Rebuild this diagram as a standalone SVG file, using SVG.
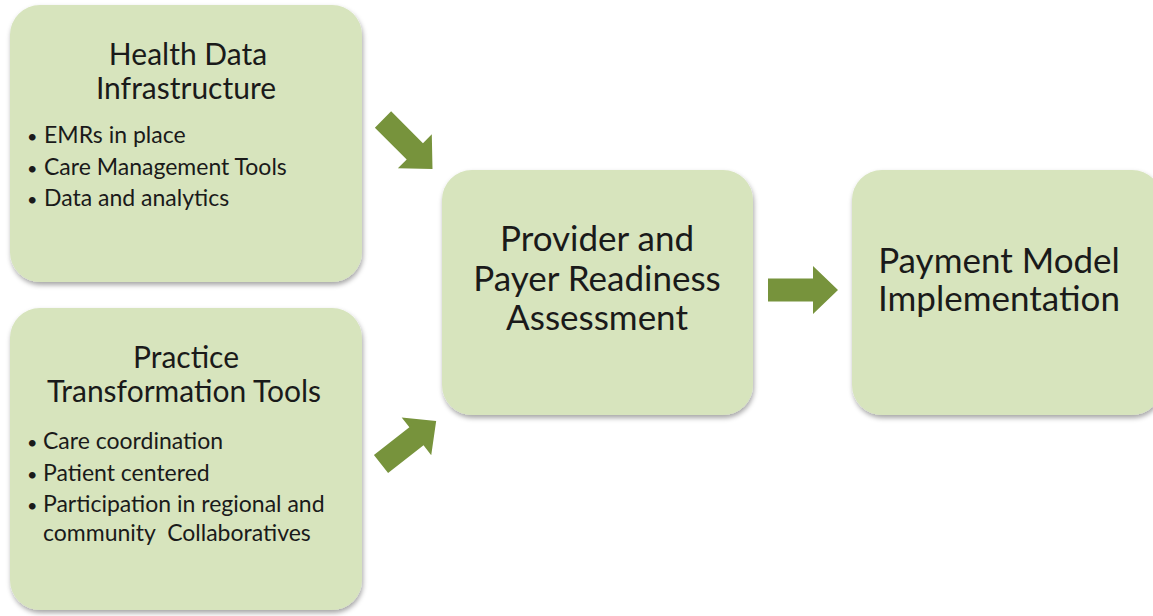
<svg xmlns="http://www.w3.org/2000/svg" width="1153" height="616" viewBox="0 0 1153 616">
<defs>
<filter id="sh" x="-10%" y="-10%" width="125%" height="125%">
<feDropShadow dx="1" dy="3" stdDeviation="2.5" flood-color="#000" flood-opacity="0.35"/>
</filter>
<path id="arr" d="M0,-11.5 H45 V-24 L70,0 L45,24 V11.5 H0 Z"/>
</defs>
<style>
.box{fill:#D7E4BD;filter:url(#sh);}
.t{font-family:Lato,"Open Sans",sans-serif;fill:#1a1a1a;}
.big{font-size:30px;text-anchor:middle;}
.xl{font-size:35px;text-anchor:middle;}
.sm{font-size:23px;}
.dot{font-size:18px;}
.ar{fill:#77933C;}
</style>
<rect width="1153" height="616" fill="#ffffff"/>
<g id="health-data">
<rect class="box" x="10" y="5" width="352" height="277" rx="30"/>
<text class="t big" x="188" y="65">Health Data</text>
<text class="t big" x="186" y="99">Infrastructure</text>
<text class="t dot" x="27" y="143">•</text>
<text class="t sm" x="44" y="143">EMRs in place</text>
<text class="t dot" x="27" y="175">•</text>
<text class="t sm" x="44" y="175">Care Management Tools</text>
<text class="t dot" x="27" y="206">•</text>
<text class="t sm" x="44" y="206">Data and analytics</text>
</g>
<g id="practice">
<rect class="box" x="10" y="308" width="352" height="302" rx="30"/>
<text class="t big" x="186" y="368">Practice</text>
<text class="t big" x="184" y="402">Transformation Tools</text>
<text class="t dot" x="27" y="449">•</text>
<text class="t sm" x="43" y="449">Care coordination</text>
<text class="t dot" x="27" y="481">•</text>
<text class="t sm" x="43" y="481">Patient centered</text>
<text class="t dot" x="27" y="512">•</text>
<text class="t sm" x="43" y="512">Participation in regional and</text>
<text class="t sm" x="43" y="541" xml:space="preserve">community  Collaboratives</text>
</g>
<g id="readiness">
<rect class="box" x="442" y="170" width="311" height="245" rx="30"/>
<text class="t xl" x="597" y="251">Provider and</text>
<text class="t xl" x="597" y="291">Payer Readiness</text>
<text class="t xl" x="597" y="330">Assessment</text>
</g>
<g id="payment">
<rect class="box" x="852" y="170" width="310" height="245" rx="30"/>
<text class="t xl" x="999" y="273">Payment Model</text>
<text class="t xl" x="999" y="311">Implementation</text>
</g>
<g id="connectors">
<use href="#arr" class="ar" transform="translate(383,119.5) rotate(45)"/>
<use href="#arr" class="ar" transform="translate(381,464) rotate(-38)"/>
<use href="#arr" class="ar" transform="translate(768,290)"/>
</g>
</svg>
